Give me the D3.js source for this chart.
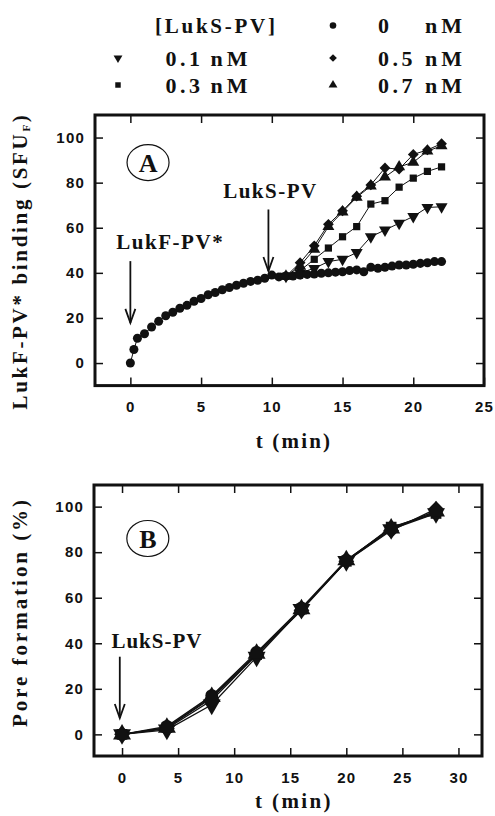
<!DOCTYPE html>
<html><head><meta charset="utf-8">
<script src="https://cdn.jsdelivr.net/npm/d3@7"></script>
<style>body{margin:0;background:#fff} svg{display:block}</style>
</head><body><svg id="c" width="495" height="816"></svg>
<script>
// ---------- data ----------
const legendTitle = "[LukS-PV]";
const unitLabel = "nM";
const concLabels = ["0", "0.1", "0.3", "0.5", "0.7"];
const concSymbols = ["circle", "tri-down", "square", "diamond", "tri-up"];

// Panel A: LukF-PV* binding (SFU_F) vs t (min)
const timeA0 = [0, 0.25, 0.5, 1, 1.5, 2, 2.5, 3, 3.5, 4, 4.5, 5, 5.5, 6, 6.5, 7, 7.5, 8, 8.5, 9, 9.5,
  10, 10.5, 11, 11.5, 12, 12.5, 13, 13.5, 14, 14.5, 15, 15.5, 16, 16.5, 17, 17.5, 18, 18.5, 19, 19.5,
  20, 20.5, 21, 21.5, 22];
const bindA0 = [0, 6, 11, 13, 16, 18.5, 21, 22.5, 24.3, 25.6, 27.4, 28.6, 30.3, 31.3, 32.5, 33.5, 34.5, 35.4, 36.2, 36.7, 37.6,
  39, 38.2, 38.6, 38.6, 39, 39.3, 39.5, 39.8, 40, 40.3, 40.5, 41, 41.3, 40.5, 42.5, 42, 42.5, 43, 43.5, 43.5,
  43.8, 44.2, 44.5, 45, 45];
const timeA = [11, 12, 13, 14, 15, 16, 17, 18, 19, 20, 21, 22];
const bindA01 = [38.5, 40, 42, 45, 46, 49, 56, 59, 62, 65, 69, 69.3];
const bindA03 = [38.5, 41, 46, 51, 56, 60.5, 70.5, 72, 78, 82, 85, 87];
const bindA05 = [38.5, 44.5, 52, 61.5, 67.5, 74, 79, 86.5, 86, 92.5, 94.5, 97.3];
const bindA07 = [38.5, 43, 50.5, 60.5, 67, 73.5, 78.5, 82.5, 87, 89, 94, 96.3];

// Panel B: Pore formation (%) vs t (min)
const timeB = [0, 4, 8, 12, 16, 20, 24, 28];
const poreB00 = [0, 3.5, 17, 36, 55.5, 76.5, 90.5, 97.5];
const poreB01 = [0, 2, 13, 34, 55, 76, 90, 97];
const poreB03 = [0, 3, 16, 35, 55, 76, 91, 97];
const poreB05 = [0, 2.5, 15, 35, 54.5, 76, 89.5, 99];
const poreB07 = [0, 3, 16.5, 35.5, 55, 76.5, 90.5, 98];

const ticksAx = [0, 5, 10, 15, 20, 25];
const ticksAy = [0, 20, 40, 60, 80, 100];
const ticksBx = [0, 5, 10, 15, 20, 25, 30];
const ticksBy = [0, 20, 40, 60, 80, 100];

// ---------- drawing ----------
const svg = d3.select("#c");
const SERIF = "'Liberation Serif','Times New Roman',serif";
const SANS = "'Liberation Sans',Arial,sans-serif";
const INK = "#111";

function symPath(type, size) {
  if (type === "circle") return d3.symbol(d3.symbolCircle, size)();
  if (type === "square" || type === "diamond") return d3.symbol(d3.symbolSquare, size)();
  return d3.symbol(d3.symbolTriangle, size)();
}
function symRot(type) {
  if (type === "diamond") return 45;
  if (type === "tri-down") return 180;
  return 0;
}
const symSize = {A: {circle: 64, square: 52, diamond: 58, "tri-up": 62, "tri-down": 62},
                 L: {circle: 34, square: 30, diamond: 30, "tri-up": 34, "tri-down": 34},
                 B: {circle: 130, square: 115, diamond: 125, "tri-up": 140, "tri-down": 140}};

function fitText(sel, target) {
  const n = sel.text().length;
  const len = sel.node().getComputedTextLength();
  if (n > 1) sel.attr("letter-spacing", (target - len) / (n - 1));
}

function drawAxes(x, y, xt, yt) {
  const [x0, x1] = x.range(), [y0, y1] = y.range();
  const g = svg.append("g");
  const style = a => {
    a.select(".domain").remove();
    a.selectAll(".tick line").attr("stroke", INK).attr("stroke-width", 1.5);
    a.selectAll(".tick text").attr("fill", INK).attr("font-family", SANS)
      .attr("font-weight", "bold").attr("font-size", 15).attr("letter-spacing", 1.2);
  };
  g.append("g").attr("transform", `translate(0,${y0})`)
    .call(d3.axisBottom(x).tickValues(xt).tickSizeInner(-8).tickSizeOuter(0).tickPadding(16)).call(style);
  g.append("g").attr("transform", `translate(0,${y1})`)
    .call(d3.axisTop(x).tickValues(xt.filter(v => x(v) < x1 - 2)).tickSizeInner(-8).tickSizeOuter(0).tickFormat("")).call(style);
  g.append("g").attr("transform", `translate(0,0)`)
    .call(d3.axisLeft(y).tickValues(yt).tickSizeInner(-8).tickSizeOuter(0).tickPadding(10))
    .attr("transform", `translate(${x0},0)`).call(style);
  g.append("g").attr("transform", `translate(${x1},0)`)
    .call(d3.axisRight(y).tickValues(yt).tickSizeInner(-8).tickSizeOuter(0).tickFormat("")).call(style);
  g.selectAll("g text").attr("font-family", SANS);
  g.append("rect").attr("x", x0).attr("y", y1).attr("width", x1 - x0).attr("height", y0 - y1)
    .attr("fill", "none").attr("stroke", INK).attr("stroke-width", 3);
}

function drawSeries(x, y, xs, ys, type, sizeKey, lw) {
  const data = xs.map((t, i) => [t, ys[i]]);
  svg.append("path").datum(data)
    .attr("d", d3.line().x(d => x(d[0])).y(d => y(d[1])))
    .attr("fill", "none").attr("stroke", INK).attr("stroke-width", lw);
  svg.append("g").selectAll("path").data(data).join("path")
    .attr("d", symPath(type, symSize[sizeKey][type]))
    .attr("transform", d => `translate(${x(d[0])},${y(d[1])}) rotate(${symRot(type)})`)
    .attr("fill", INK);
}

function arrow(x1, y1, x2, y2) {
  const g = svg.append("g").attr("stroke", INK).attr("stroke-width", 1.8).attr("fill", "none");
  g.append("line").attr("x1", x1).attr("y1", y1).attr("x2", x2).attr("y2", y2);
  g.append("path").attr("d", `M${x2 - 5},${y2 - 14} L${x2},${y2} L${x2 + 5},${y2 - 14}`);
}

function serifText(x, y, txt, size, width, anchor) {
  const t = svg.append("text").attr("x", x).attr("y", y).text(txt)
    .attr("font-family", SERIF).attr("font-weight", "bold").attr("font-size", size)
    .attr("fill", INK).attr("text-anchor", anchor || "start");
  if (width) fitText(t, width);
  return t;
}

function panelLabel(cx, cy, letter) {
  svg.append("ellipse").attr("cx", cx).attr("cy", cy).attr("rx", 21).attr("ry", 18)
    .attr("fill", "none").attr("stroke", INK).attr("stroke-width", 1.2);
  svg.append("text").attr("x", cx).attr("y", cy + 9).text(letter)
    .attr("font-family", SERIF).attr("font-weight", "bold").attr("font-size", 26)
    .attr("text-anchor", "middle").attr("fill", INK);
}

// ---- Legend ----
serifText(155, 33, legendTitle, 21, 120);
const legendPos = [
  {mx: 333, vx: 378, ux: 425, y: 33},
  {mx: 118, vx: 165.5, ux: 210.5, y: 65.5},
  {mx: 118, vx: 165.5, ux: 210.5, y: 92.5},
  {mx: 333, vx: 378, ux: 425, y: 65.5},
  {mx: 333, vx: 378, ux: 425, y: 92.5}
];
concLabels.forEach((lab, i) => {
  const p = legendPos[i], type = concSymbols[i];
  svg.append("path").attr("d", symPath(type, symSize.L[type]))
    .attr("transform", `translate(${p.mx},${p.y - 7.5}) rotate(${symRot(type)})`).attr("fill", INK);
  serifText(p.vx, p.y, lab, 22, lab.length > 1 ? 34.5 : null);
  serifText(p.ux, p.y, unitLabel, 22, 37);
});

// ---- Panel A ----
const xA = d3.scaleLinear().domain([-2.5, 25]).range([95, 484]);
const yA = d3.scaleLinear().domain([-10, 110]).range([385.6, 115]);
drawAxes(xA, yA, ticksAx, ticksAy);
const seriesA = [bindA01, bindA03, bindA05, bindA07];
seriesA.forEach((ys, i) => drawSeries(xA, yA, timeA, ys, concSymbols[i + 1], "A", 1));
drawSeries(xA, yA, timeA0, bindA0, concSymbols[0], "A", 1);
panelLabel(xA(1.25), yA(88.9), "A");
serifText(xA(9.9), yA(73.3), "LukS-PV", 21, 93, "middle");
arrow(xA(9.76), yA(68.1), xA(9.76), yA(40.8));
serifText(xA(-1.0), yA(50.4), "LukF-PV*", 21, 106.5);
arrow(xA(0), yA(45.2), xA(0), yA(17.8));
serifText(294, 448, "t  (min)", 21, 76.5, "middle");
// y label A
const yl = svg.append("text").attr("transform", "translate(27,261) rotate(-90)")
  .attr("font-family", SERIF).attr("font-weight", "bold").attr("font-size", 21)
  .attr("text-anchor", "middle").attr("fill", INK);
yl.append("tspan").text("LukF-PV* binding  (SFU");
yl.append("tspan").text("F").attr("font-size", 11).attr("dy", 3);
yl.append("tspan").text(")").attr("dy", -3);
{
  const n = "LukF-PV* binding  (SFUF)".length;
  const len = yl.node().getComputedTextLength();
  yl.attr("letter-spacing", (297 - len) / (n - 1));
}

// ---- Panel B ----
const xB = d3.scaleLinear().domain([-2.5, 32.1]).range([94, 482]);
const yB = d3.scaleLinear().domain([-9.5, 109.5]).range([756, 485]);
drawAxes(xB, yB, ticksBx, ticksBy);
const seriesB = [poreB00, poreB01, poreB03, poreB05, poreB07];
seriesB.forEach((ys, i) => drawSeries(xB, yB, timeB, ys, concSymbols[i], "B", 1.3));
panelLabel(xB(2.3), yB(86), "B");
serifText(xB(-0.95), yB(37.8), "LukS-PV", 21, 90);
arrow(xB(-0.2), yB(34.1), xB(-0.2), yB(7.2));
serifText(294, 808, "t  (min)", 21, 78, "middle");
const yl2 = serifText(0, 0, "Pore formation  (%)", 21, null, "middle")
  .attr("x", null).attr("y", null).attr("transform", "translate(27,612) rotate(-90)");
fitText(yl2, 230);
</script></body></html>
